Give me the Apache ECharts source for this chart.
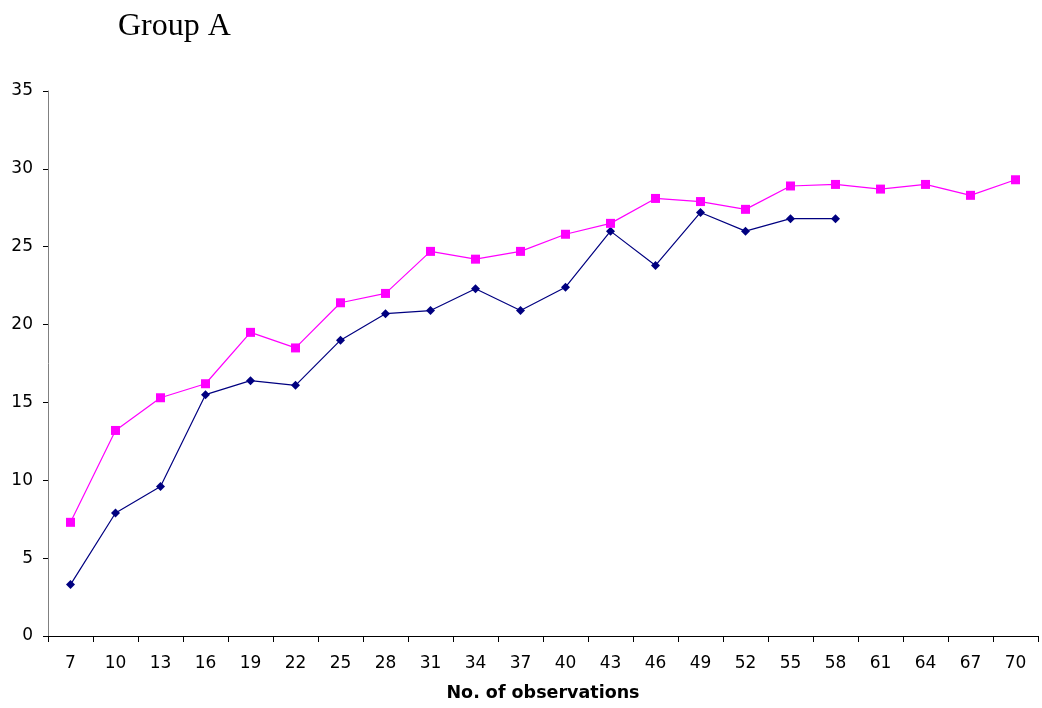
<!DOCTYPE html>
<html>
<head>
<meta charset="utf-8">
<script src="https://cdn.jsdelivr.net/npm/echarts@6/dist/echarts.min.js"></script>
<style>
html,body{margin:0;padding:0;background:#fff;}
#c{width:1042px;height:708px;}
</style>
</head>
<body>
<div id="c"></div>
<script>
const categories = ['7','10','13','16','19','22','25','28','31','34','37','40','43','46','49','52','55','58','61','64','67','70'];
const seriesBlue = [3.3,7.9,9.6,15.5,16.4,16.1,19.0,20.7,20.9,22.3,20.9,22.4,26.0,23.8,27.2,26.0,26.8,26.8,null,null,null,null];
const seriesPink = [7.3,13.2,15.3,16.2,19.5,18.5,21.4,22.0,24.7,24.2,24.7,25.8,26.5,28.1,27.9,27.4,28.9,29.0,28.7,29.0,28.3,29.3];
const yTicks = [0,5,10,15,20,25,30,35];

const chart = echarts.init(document.getElementById('c'), null, {renderer:'canvas'});
chart.setOption({
  animation:false,
  backgroundColor:'#fff',
  title:{
    text:'Group A',
    left:113, top:6,
    textStyle:{fontFamily:'Liberation Serif', fontSize:32, fontWeight:'normal', color:'#000'}
  },
  grid:{left:48, right:4, top:91, bottom:72, containLabel:false, outerBoundsMode:'none'},
  xAxis:{
    type:'category',
    data:categories,
    boundaryGap:true,
    name:'No. of observations',
    nameLocation:'middle',
    nameGap:48,
    nameTextStyle:{fontFamily:'DejaVu Sans', fontSize:17.5, fontWeight:'bold', color:'#000'},
    axisLine:{lineStyle:{color:'#000', width:1}},
    axisTick:{show:true, alignWithLabel:false, length:6, lineStyle:{color:'#000'}},
    axisLabel:{fontFamily:'DejaVu Sans', fontSize:17, color:'#000', margin:19, interval:0},
    splitLine:{show:false}
  },
  yAxis:{
    type:'value',
    min:0, max:35, interval:5,
    axisLine:{show:true, lineStyle:{color:'#808080', width:1}},
    axisTick:{show:true, length:5, lineStyle:{color:'#000'}},
    axisLabel:{fontFamily:'DejaVu Sans', fontSize:17, color:'#000', margin:15,
      formatter:function(v){return yTicks.indexOf(v)>=0 ? String(v) : '';}},
    splitLine:{show:false}
  },
  series:[
    {
      name:'A1', type:'line', data:seriesBlue,
      symbol:'diamond', symbolSize:9,
      itemStyle:{color:'#000080'},
      lineStyle:{color:'#000080', width:1.2},
      connectNulls:false
    },
    {
      name:'A2', type:'line', data:seriesPink,
      symbol:'rect', symbolSize:9,
      itemStyle:{color:'#ff00ff'},
      lineStyle:{color:'#ff00ff', width:1.2}
    }
  ]
});
</script>
</body>
</html>
